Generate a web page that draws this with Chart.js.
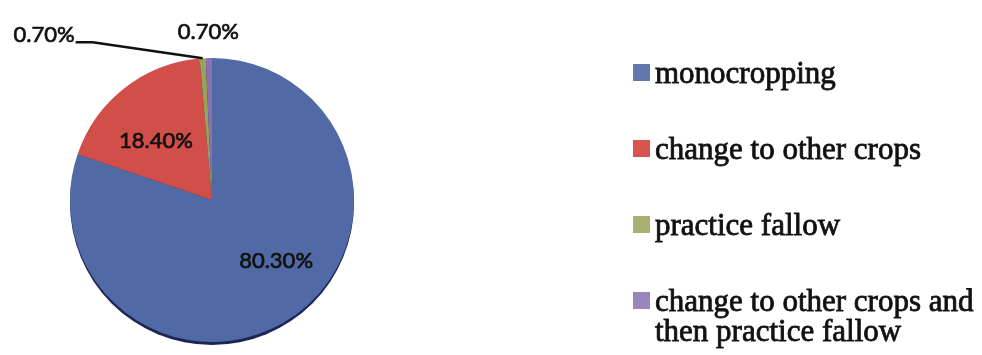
<!DOCTYPE html>
<html>
<head>
<meta charset="utf-8">
<script src="https://cdn.jsdelivr.net/npm/chart.js@4"></script>
<style>
  html, body { margin: 0; padding: 0; background: #fff; }
  #wrap { width: 982px; height: 355px; }
</style>
</head>
<body>
<div id="wrap"><canvas id="pie-chart" width="982" height="355"></canvas></div>
<script>

// data
const categories = [
  'monocropping',
  'change to other crops',
  'practice fallow',
  ['change to other crops and', 'then practice fallow']
];
const shares = [80.3, 18.4, 0.7, 0.7];
const valueLabels = ['80.30%', '18.40%', '0.70%', '0.70%'];

const sliceColors = ['#5169a4', '#d24e48', '#9aa25a', '#8a72b2'];
const keyColors = ['#6478b0', '#d8554f', '#a9b070', '#9a86bd'];

// dark rim under the pie (the scan shows a navy edge at the bottom)
const rimPlugin = {
  id: 'rim',
  beforeDatasetsDraw(chart) {
    const arc = chart.getDatasetMeta(0).data[0];
    if (!arc) return;
    const ctx = chart.ctx;
    ctx.save();
    ctx.fillStyle = '#1c2656';
    ctx.beginPath();
    ctx.arc(arc.x, arc.y + 3, arc.outerRadius, 0, Math.PI * 2);
    ctx.fill();
    ctx.restore();
  }
};

function heavyText(ctx, t, x, y) {
  ctx.fillText(t, x, y);
  ctx.strokeText(t, x, y);
}

const labelPlugin = {
  id: 'sliceLabels',
  afterDatasetsDraw(chart) {
    const ctx = chart.ctx;
    const arcs = chart.getDatasetMeta(0).data;
    ctx.save();
    ctx.font = '22px Lato';
    ctx.fillStyle = '#111';
    ctx.strokeStyle = '#111';
    ctx.lineWidth = 0.7;
    ctx.textBaseline = 'middle';
    ctx.textAlign = 'center';

    // big slices: inside
    const inside = [[0.63, 12, -12], [0.57, -6, 5]];
    for (let i = 0; i < 2; i++) {
      const a = arcs[i];
      const mid = (a.startAngle + a.endAngle) / 2;
      const r = a.outerRadius * inside[i][0];
      heavyText(ctx, valueLabels[i], a.x + Math.cos(mid) * r + inside[i][1], a.y + Math.sin(mid) * r + inside[i][2]);
    }

    // practice fallow: label out to the left with a leader line
    let a = arcs[2];
    let mid = (a.startAngle + a.endAngle) / 2;
    const ex = a.x + Math.cos(mid) * a.outerRadius;
    const ey = a.y + Math.sin(mid) * a.outerRadius;
    ctx.textAlign = 'right';
    heavyText(ctx, valueLabels[2], ex - 128, ey - 23);
    ctx.lineWidth = 2.5;
    ctx.beginPath();
    ctx.moveTo(ex - 127, ey - 16);
    ctx.lineTo(ex - 110, ey - 16);
    ctx.lineTo(ex, ey);
    ctx.stroke();

    // last slice: label straight above
    a = arcs[3];
    mid = (a.startAngle + a.endAngle) / 2;
    ctx.textAlign = 'center';
    ctx.lineWidth = 0.7;
    heavyText(ctx, valueLabels[3], a.x + Math.cos(mid) * (a.outerRadius + 26), a.y + Math.sin(mid) * (a.outerRadius + 26));
    ctx.restore();
  }
};

const keyPlugin = {
  id: 'sideKey',
  afterDraw(chart) {
    const ctx = chart.ctx;
    const left = 633, top = 83, step = 76, box = 17, lineH = 30;
    ctx.save();
    ctx.font = '31px "Liberation Serif"';
    ctx.textBaseline = 'alphabetic';
    ctx.textAlign = 'left';
    ctx.strokeStyle = '#111';
    ctx.lineWidth = 0.8;
    chart.data.labels.forEach((lab, i) => {
      const y = top + i * step;
      ctx.fillStyle = keyColors[i];
      ctx.fillRect(left, y - box - 2, box, box);
      ctx.fillStyle = '#111';
      const lines = Array.isArray(lab) ? lab : [lab];
      lines.forEach((t, k) => heavyText(ctx, t, left + box + 5, y + k * lineH));
    });
    ctx.restore();
  }
};

const data = {
  labels: categories,
  datasets: [{
    label: 'Share',
    data: shares,
    backgroundColor: sliceColors,
    borderWidth: 0
  }]
};

const config = {
  type: 'pie',
  data: data,
  options: {
    responsive: false,
    animation: false,
    plugins: {
      legend: { display: false },
      tooltip: { enabled: false }
    },
    layout: {
      padding: { top: 58, bottom: 13, left: 70, right: 628 }
    }
  },
  plugins: [rimPlugin, labelPlugin, keyPlugin]
};

const pieChart = new Chart(document.getElementById('pie-chart'), config);
</script>
</body>
</html>
